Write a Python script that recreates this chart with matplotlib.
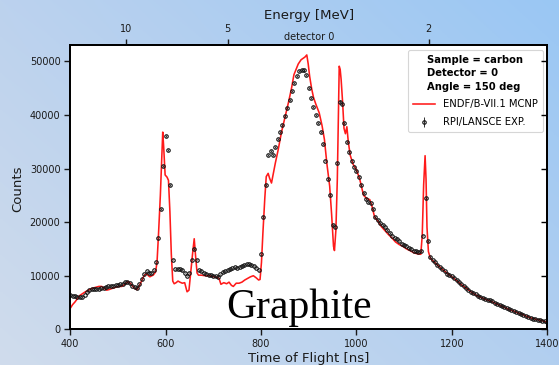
import numpy as np
import matplotlib
matplotlib.use("Agg")
import matplotlib.pyplot as plt

# ---------------- data ----------------
exp_tof_start, exp_tof_stop, exp_tof_step = 400, 1400, 5
exp_counts = [
    6400, 6300, 6300, 6100, 6000, 6100, 6400, 7000, 7300, 7500, 7600, 7600, 7600, 7700, 7800, 7900, 8000, 8100, 8100, 8200,
    8300, 8400, 8500, 8800, 8900, 8600, 8100, 7900, 7800, 8400, 9300, 10300, 10800, 10600, 10600, 11000, 12500, 17000, 22500, 30500,
    36000, 33500, 27000, 13000, 11200, 11300, 11200, 11000, 10600, 10000, 10600, 13000, 15000, 13000, 11000, 10800, 10600, 10400, 10200, 10100,
    10000, 9900, 9800, 10300, 10700, 10900, 11000, 11200, 11400, 11600, 11500, 11700, 11900, 12000, 12100, 12100, 12000, 11900, 11500, 11000,
    14000, 21000, 27000, 32500, 33200, 32500, 34000, 35500, 36800, 38200, 39800, 41300, 42800, 44500, 46000, 47300, 48200, 48400, 48300, 47500,
    45000, 43200, 41500, 40000, 38500, 36800, 34600, 31500, 28000, 25000, 19500, 19000, 31000, 42500, 42000, 38500, 35000, 33000, 31500, 30200,
    29500, 28500, 27000, 25500, 24300, 23800, 23500, 22500, 21000, 20400, 19800, 19500, 19000, 18500, 18000, 17500, 17000, 16800, 16400, 16000,
    15800, 15600, 15200, 14900, 14700, 14600, 14400, 14600, 17500, 24500, 16500, 13500, 12900, 12500, 12000, 11600, 11200, 10800, 10400, 10100,
    9900, 9600, 9200, 8800, 8400, 8100, 7800, 7400, 7000, 6700, 6500, 6300, 6100, 5900, 5700, 5500, 5400, 5200, 5000, 4800,
    4600, 4400, 4200, 4000, 3800, 3600, 3400, 3250, 3100, 2900, 2700, 2500, 2300, 2150, 2000, 1900, 1800, 1700, 1600, 1500,
    1400,
]
exp_tof = np.arange(exp_tof_start, exp_tof_stop + 1, exp_tof_step)

mcnp_tof = [
    400, 405, 410, 420, 430, 438, 445, 452, 460, 466,
    471, 476, 481, 487, 494, 501, 508, 515, 522, 528,
    534, 540, 546, 553, 557, 560, 564, 567, 571, 574,
    579, 582, 585, 589, 592, 594, 596, 599, 603, 606,
    609, 612, 615, 618, 622, 626, 630, 635, 640, 645,
    649, 653, 657, 660, 663, 666, 669, 675, 683, 692,
    701, 708, 712, 716, 722, 728, 733, 738, 742, 748,
    754, 760, 766, 772, 778, 784, 790, 795, 798, 801,
    804, 808, 811, 815, 818, 822, 826, 830, 836, 843,
    850, 858, 864, 869, 874, 878, 884, 889, 892, 896,
    899, 902, 906, 910, 915, 922, 928, 933, 938, 944,
    948, 952, 954, 957, 960, 962, 964, 966, 968, 971,
    974, 977, 980, 983, 987, 993, 1000, 1007, 1015, 1022,
    1028, 1032, 1038, 1045, 1052, 1060, 1067, 1075, 1082, 1090,
    1097, 1105, 1112, 1120, 1127, 1135, 1138, 1141, 1144, 1146,
    1148, 1151, 1155, 1160, 1170, 1180, 1190, 1200, 1210, 1220,
    1230, 1240, 1250, 1260, 1270, 1280, 1290, 1300, 1310, 1320,
    1330, 1340, 1350, 1360, 1370, 1380, 1390, 1400,
]
mcnp_counts = [
    3900, 4600, 5100, 6300, 6900, 7300, 7600, 7800, 8000, 8000,
    7700, 7300, 7400, 7600, 7800, 8000, 8000, 8400, 8900, 8400,
    7700, 7400, 8300, 9700, 10200, 10400, 10000, 9800, 10000, 10100,
    10700, 12500, 17500, 25000, 32000, 36800, 34000, 28800, 28400, 27800,
    22000, 14000, 9000, 8500, 8700, 9000, 8800, 8600, 8700, 7000,
    7300, 11000, 14500, 16900, 13500, 10500, 10100, 10100, 10000, 10000,
    9800, 9700, 9500, 8400, 8700, 8500, 8800, 8200, 8000, 8600,
    8600, 8800, 9200, 9500, 9800, 10000, 9600, 9200, 9300, 12500,
    18000, 24500, 28500, 29100, 28200, 27300, 29200, 31000, 33500, 36800,
    39500, 42500, 45000, 47500, 48600, 49500, 50300, 50600, 50800, 51200,
    49500, 47200, 45000, 43300, 42000, 40400, 38000, 35400, 31000, 26700,
    21500, 15500, 14700, 18500, 28000, 38000, 49100, 48500, 46600, 42500,
    37500, 36500, 37800, 35000, 32500, 30800, 29800, 28000, 25000, 24400,
    24200, 23200, 21000, 20200, 19200, 18400, 17700, 17000, 16300, 15800,
    15500, 15000, 14700, 14300, 14100, 14000, 17500, 27000, 32400, 28000,
    19000, 14500, 13300, 12800, 12000, 11200, 10500, 9800, 9100, 8300,
    7700, 7000, 6400, 6000, 5600, 5300, 4900, 4500, 4100, 3700,
    3400, 3000, 2700, 2300, 2000, 1800, 1600, 1300,
]

energy_ticks_mev = [10, 5, 2]
energy_tick_labels = ["10", "5", "2"]
legend_title = "Sample = carbon\nDetector = 0\nAngle = 150 deg"
label_mcnp = "ENDF/B-VII.1 MCNP"
label_exp = "RPI/LANSCE EXP."


def tof_from_energy(e_mev):
    # flight-time conversion used for the top (energy) axis
    return 1621.0 / np.sqrt(np.asarray(e_mev, dtype=float)) + 5.0


# ---------------- figure ----------------
W, H = 559, 365
fig = plt.figure(figsize=(W / 100, H / 100), dpi=100)

# gradient background
tl = np.array([188, 210, 238]) / 255
tr = np.array([154, 199, 244]) / 255
bl = np.array([208, 220, 236]) / 255
br = np.array([178, 207, 240]) / 255
u = np.linspace(0, 1, 200)[None, :, None]
v = np.linspace(0, 1, 200)[:, None, None]
grad = (1 - v) * ((1 - u) * tl + u * tr) + v * ((1 - u) * bl + u * br)
bg = fig.add_axes([0, 0, 1, 1], zorder=0)
bg.imshow(grad, extent=[0, 1, 0, 1], aspect="auto", origin="upper")
bg.set_axis_off()

ax_l, ax_r, ax_b, ax_t = 70.2, 547.2, 329.3, 45.3
ax = fig.add_axes([ax_l / W, 1 - ax_b / H, (ax_r - ax_l) / W, (ax_b - ax_t) / H], zorder=1)
ax.set_facecolor("white")

ax.plot(mcnp_tof, mcnp_counts, color="#ff1a1a", lw=1.15, label=label_mcnp, zorder=2)
exp_arr = np.asarray(exp_counts, dtype=float)
ax.errorbar(exp_tof, exp_arr, yerr=np.sqrt(exp_arr), fmt="o", ms=2.5,
            mfc="none", mec="#111111", mew=0.8, ecolor="#111111", elinewidth=0.6,
            label=label_exp, zorder=3)

ax.set_xlim(400, 1400)
ax.set_ylim(0, 53000)
ax.set_xticks([400, 600, 800, 1000, 1200, 1400])
ax.set_yticks([0, 10000, 20000, 30000, 40000, 50000])
ax.tick_params(axis="both", labelsize=7, direction="out", length=4.5, width=1.0,
               pad=2.5, colors="#1a1a1a")
for s in ax.spines.values():
    s.set_linewidth(1.2)

# right inward ticks
axr = ax.twinx()
axr.set_ylim(ax.get_ylim())
axr.set_yticks([0, 10000, 20000, 30000, 40000, 50000])
axr.tick_params(axis="y", direction="in", length=4.5, width=1.0, labelright=False)
for s in axr.spines.values():
    s.set_linewidth(1.2)

# top energy axis
axt = ax.twiny()
axt.set_xlim(ax.get_xlim())
axt.set_xticks(tof_from_energy(energy_ticks_mev))
axt.set_xticklabels(energy_tick_labels)
axt.tick_params(axis="x", labelsize=7, direction="out", length=4.5, width=1.0,
                pad=3.5, colors="#1a1a1a")
for s in axt.spines.values():
    s.set_linewidth(1.2)

leg = ax.legend(title=legend_title, title_fontproperties={"weight": "bold", "size": 7.2},
                fontsize=7.2, loc="upper right", borderaxespad=0.45, labelspacing=0.75,
                handlelength=2.2, borderpad=0.5)
leg.get_title().set_linespacing(1.45)
leg.get_frame().set_linewidth(0.8)

cx = (ax_l + ax_r) / 2 / W
fig.text(cx, 1 - 16 / H, "Energy [MeV]", ha="center", va="center", fontsize=9.5, color="#1a1a1a")
fig.text(cx, 1 - 36.5 / H, "detector 0", ha="center", va="center", fontsize=7, color="#1a1a1a")
fig.text(cx, 1 - 358.5 / H, "Time of Flight [ns]", ha="center", va="center", fontsize=9.5, color="#1a1a1a")
fig.text(18 / W, 1 - 189 / H, "Counts", ha="center", va="center", rotation=90, fontsize=9.5, color="#1a1a1a")
fig.text(299.5 / W, 1 - 318 / H, "Graphite", ha="center", va="baseline", fontsize=30,
         family="Liberation Serif", color="black", zorder=5)

fig.savefig("out.png", dpi=100)
